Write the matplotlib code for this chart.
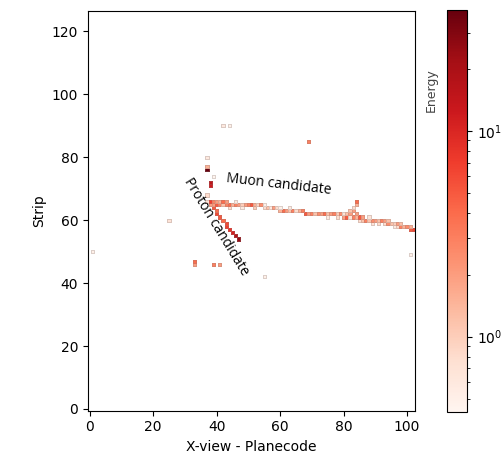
import numpy as np
import matplotlib
matplotlib.use("Agg")
import matplotlib.pyplot as plt
from matplotlib.colors import LogNorm

n_planes = 103
n_strips = 127

# muon candidate hits: plane, strip, energy
muon_plane = [38, 38, 39, 39, 40, 40, 41, 41, 42, 42, 43, 43, 44, 44, 45, 46, 46, 47, 48, 48,
              49, 50, 51, 52, 52, 53, 54, 55, 55, 56, 57, 58, 59, 60, 60, 61, 62, 63, 63, 64,
              65, 66, 67, 68, 69, 70, 71, 72, 73, 74, 75, 75, 76, 77, 78, 78, 79, 80, 80, 81,
              81, 82, 82, 82, 83, 83, 83, 84, 84, 84, 84, 85, 85, 86, 86, 87, 88, 88, 89, 89,
              90, 91, 91, 92, 93, 93, 94, 94, 95, 96, 96, 97, 97, 98, 98, 99, 100, 101, 101, 102]
muon_strip = [66, 65, 66, 65, 66, 65, 66, 65, 66, 65, 66, 65, 65, 64, 65, 65, 66, 65, 65, 64,
              65, 65, 65, 65, 64, 65, 65, 64, 65, 64, 64, 64, 64, 64, 63, 63, 63, 63, 64, 63,
              63, 63, 63, 62, 62, 62, 62, 62, 62, 62, 62, 61, 62, 62, 62, 61, 62, 61, 62, 61,
              62, 62, 63, 61, 64, 63, 61, 66, 65, 62, 61, 61, 60, 61, 60, 60, 60, 61, 60, 59,
              60, 60, 59, 60, 60, 59, 59, 60, 59, 59, 58, 59, 58, 58, 59, 58, 58, 57, 58, 57]
muon_energy = [7, 2, 3, 2, 2, 5, 1.5, 3, 4, 1.2, 2, 3, 4, 0.8, 1.5, 3, 0.6, 2, 1, 0.6,
               2, 3, 5, 1.5, 1, 0.9, 2.5, 0.8, 0.5, 1.2, 0.6, 2, 0.8, 0.5, 1.5, 4, 2, 1.2, 0.6, 3,
               0.8, 1.5, 3, 5, 2, 3, 1.2, 2.5, 2, 4, 1.2, 0.6, 2, 3, 1, 0.8, 2.5, 2, 0.7, 5,
               1.2, 2, 1.2, 0.7, 0.8, 2, 3, 4, 1.5, 2, 1.5, 5, 0.8, 2, 1.2, 3, 1.2, 0.7, 2.5, 0.7,
               2, 1.2, 0.8, 3, 2, 0.8, 2.5, 1.2, 1.2, 1, 0.6, 2, 0.8, 3, 1.2, 1.5, 2.5, 5, 1.5, 6]

# proton candidate hits
proton_plane = [39, 40, 40, 41, 42, 43, 43, 44, 45, 46, 47]
proton_strip = [64, 63, 62, 61, 60, 59, 58, 57, 56, 55, 54]
proton_energy = [5, 4, 6, 5, 4, 6, 7, 8, 11, 18, 25]

# vertex region and isolated hits
other_plane = [37, 37, 37, 38, 38, 37, 37, 39, 1, 25, 33, 33, 39, 41, 55, 101, 69, 42, 44]
other_strip = [80, 77, 76, 72, 71, 68, 66, 74, 50, 60, 47, 46, 46, 46, 42, 49, 85, 90, 90]
other_energy = [0.6, 1.5, 38.6, 15, 12, 0.8, 0.7, 0.45, 0.5, 0.7, 4, 2, 3, 2, 0.5, 0.5, 3, 0.6, 0.5]

grid = np.full((n_strips, n_planes), np.nan)
for p, s, e in zip(muon_plane + proton_plane + other_plane,
                   muon_strip + proton_strip + other_strip,
                   muon_energy + proton_energy + other_energy):
    grid[s, p] = e
hit = ~np.isnan(grid)
grid = np.ma.masked_invalid(grid)

# faint outline only around cells that have a hit
edge_cols = np.zeros((grid.size, 4))
edge_cols[hit.ravel()] = (0.55, 0.5, 0.5, 0.3)

fig = plt.figure(figsize=(5.01, 4.55), dpi=100)
ax = fig.add_axes([88 / 501, 44.5 / 455, 327 / 501, 399.5 / 455])
edges_x = np.arange(n_planes + 1) - 0.5
edges_y = np.arange(n_strips + 1) - 0.5
im = ax.pcolormesh(edges_x, edges_y, grid, cmap="Reds",
                   norm=LogNorm(vmin=0.43, vmax=38.6), linewidth=0.4)
im.set_edgecolor(edge_cols)
ax.set_xlim(-0.5, n_planes - 0.5)
ax.set_ylim(-0.5, n_strips - 0.5)
ax.set_xticks([0, 20, 40, 60, 80, 100])
ax.set_yticks([0, 20, 40, 60, 80, 100, 120])
ax.set_xlabel("X-view - Planecode")
ax.set_ylabel("Strip")

ax.text(59.5, 71.3, "Muon candidate", rotation=-6.5, ha="center", va="center",
        fontsize=10, family="Open Sans")
ax.text(40, 58, "Proton candidate", rotation=-58.5, ha="center", va="center",
        fontsize=10, family="Open Sans")

cax = fig.add_axes([447 / 501, 43 / 455, 20 / 501, 402 / 455])
cb = fig.colorbar(im, cax=cax)
cb.ax.yaxis.set_label_position("left")
cb.set_label("Energy", fontsize=9, color="#444444")
cb.ax.yaxis.set_label_coords(-0.45, 0.8)

fig.savefig("out.png", dpi=100)
